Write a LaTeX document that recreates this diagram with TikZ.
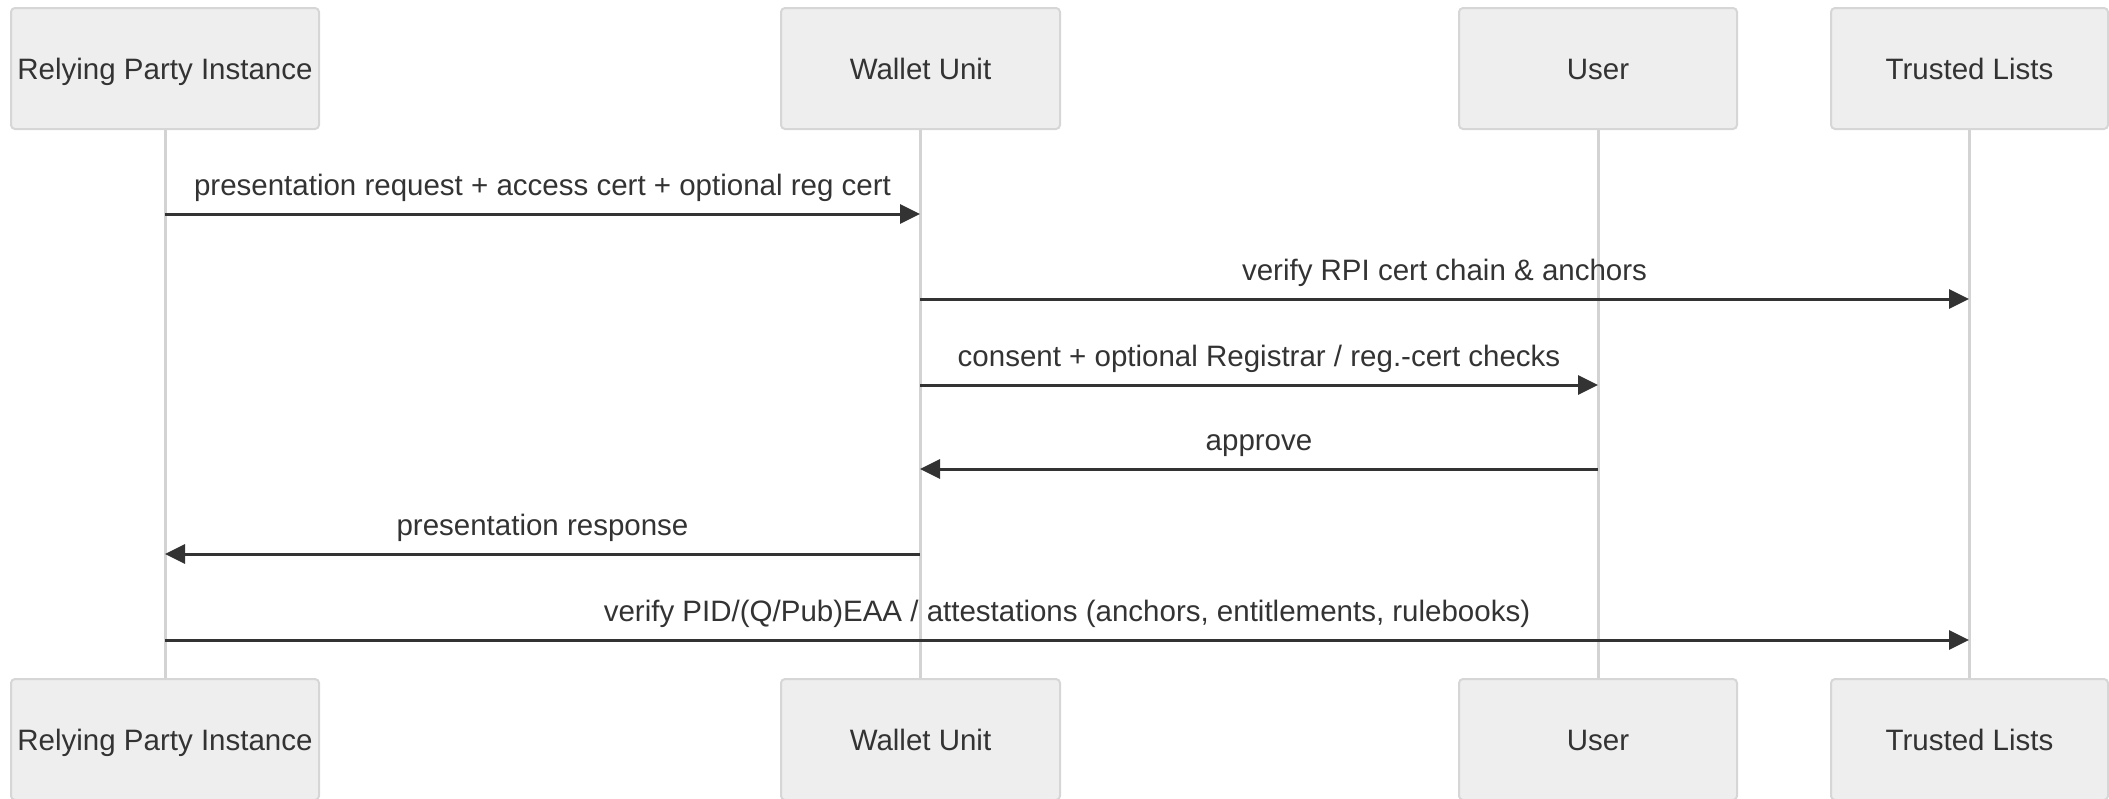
\documentclass[tikz,border=0pt]{standalone}
\usepackage{fontspec}
\setmainfont{Liberation Sans}
\usetikzlibrary{arrows.meta,calc}
\definecolor{boxfill}{HTML}{EEEEEE}
\definecolor{boxline}{HTML}{D6D6D6}
\definecolor{lifeline}{HTML}{D3D3D3}
\definecolor{ink}{HTML}{333333}
\begin{document}
\begin{tikzpicture}[x=0.5pt,y=-0.5pt,
  actor/.style={draw=boxline,line width=1pt,fill=boxfill,rounded corners=2pt,
    minimum height=60.5pt,inner sep=0pt,text=ink,text height=10.6pt,text depth=0pt,
    font=\fontsize{14.75}{17}\selectfont},
  life/.style={draw=lifeline,line width=1.5pt},
  msg/.style={draw=ink,line width=1.5pt,
    -{Triangle[length=10pt,width=9.5pt]}},
  lbl/.style={text=ink,font=\fontsize{14.75}{17}\selectfont,inner sep=0pt}]
\useasboundingbox (0,0) rectangle (2109,798);

% participants, top row
\node[actor,minimum width=154pt] (rpiT) at (165,68.5) {Relying Party Instance};
\node[actor,minimum width=139.5pt] (wuT) at (920.5,68.5) {Wallet Unit};
\node[actor,minimum width=139pt] (usT) at (1598,68.5) {User};
\node[actor,minimum width=138.5pt] (tlT) at (1969.5,68.5) {Trusted Lists};

% participants, bottom row
\node[actor,minimum width=154pt] (rpiB) at (165,739.5) {Relying Party Instance};
\node[actor,minimum width=139.5pt] (wuB) at (920.5,739.5) {Wallet Unit};
\node[actor,minimum width=139pt] (usB) at (1598,739.5) {User};
\node[actor,minimum width=138.5pt] (tlB) at (1969.5,739.5) {Trusted Lists};

% lifelines
\draw[life] (rpiT.south) -- (rpiB.north);
\draw[life] (wuT.south) -- (wuB.north);
\draw[life] (usT.south) -- (usB.north);
\draw[life] (tlT.south) -- (tlB.north);

% message rows on the lifelines
\foreach \r/\y in {1/214,2/299,3/385,4/469,5/554,6/640}{
  \coordinate (rpi\r) at (165,\y);
  \coordinate (wu\r) at (920,\y);
  \coordinate (us\r) at (1598,\y);
  \coordinate (tl\r) at (1969,\y);
}

% messages
\draw[msg] (rpi1) -- node[lbl,above=5.5pt] {presentation request + access cert + optional reg cert} (wu1);
\draw[msg] (wu2) -- node[lbl,above=5.5pt] {verify RPI cert chain \& anchors} (tl2);
\draw[msg] (wu3) -- node[lbl,above=5.5pt] {consent + optional Registrar / reg.-cert checks} (us3);
\draw[msg] (us4) -- node[lbl,above=5.5pt] {approve} (wu4);
\draw[msg] (wu5) -- node[lbl,above=5.5pt] {presentation response} (rpi5);
\draw[msg] (rpi6) -- node[lbl,above=5.5pt] {verify PID/(Q/Pub)EAA / attestations (anchors, entitlements, rulebooks)} (tl6);
\end{tikzpicture}
\end{document}
